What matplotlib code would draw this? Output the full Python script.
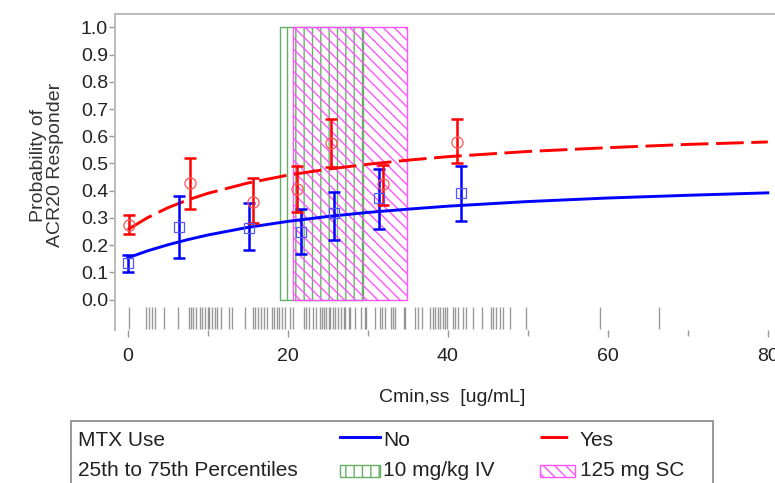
import numpy as np
import matplotlib
matplotlib.use("Agg")
import matplotlib.pyplot as plt
from matplotlib.patches import Rectangle
from matplotlib.lines import Line2D

plt.rcParams['font.family'] = ['Liberation Sans', 'DejaVu Sans']
plt.rcParams['hatch.linewidth'] = 1.0

# Courbes du modele (MTX No / Yes)
x_curve = [0, 2.5, 5, 7.5, 10, 15, 20, 25, 30, 35, 40, 50, 60, 70, 80]
p_no = [0.153, 0.179, 0.201, 0.220, 0.237, 0.265, 0.287, 0.305, 0.320, 0.332, 0.343, 0.360, 0.373, 0.383, 0.392]
p_yes = [0.257, 0.301, 0.337, 0.366, 0.390, 0.428, 0.457, 0.479, 0.497, 0.512, 0.525, 0.544, 0.558, 0.570, 0.579]

# Observes (moyenne + IC)
x_no = [0.0, 6.4, 15.2, 21.6, 25.8, 31.4, 41.6]
y_no = [0.133, 0.268, 0.263, 0.249, 0.317, 0.372, 0.390]
lo_no = [0.100, 0.151, 0.182, 0.166, 0.219, 0.258, 0.289]
hi_no = [0.164, 0.382, 0.356, 0.332, 0.396, 0.479, 0.492]

x_yes = [0.2, 7.8, 15.6, 21.2, 25.4, 31.9, 41.1]
y_yes = [0.274, 0.427, 0.360, 0.405, 0.574, 0.425, 0.580]
lo_yes = [0.240, 0.333, 0.280, 0.323, 0.488, 0.347, 0.500]
hi_yes = [0.311, 0.521, 0.446, 0.492, 0.664, 0.494, 0.664]

# Percentiles 25-75 de Cmin,ss
iv_q = [19.0, 29.4]
sc_q = [20.6, 34.9]

# Rug des concentrations individuelles
rug = [0.1, 2.3, 2.6, 3.0, 3.4, 4.5, 6.3, 7.7, 7.9, 8.2, 8.5, 9.0, 9.3, 9.6, 10.0,
       10.2, 10.5, 10.9, 11.2, 11.6, 12.6, 13.0, 14.7, 15.6, 15.9, 16.3, 16.6, 17.0,
       17.4, 18.0, 18.3, 18.6, 18.95, 19.25, 19.7, 20.3, 20.7, 22.0, 22.3, 22.6, 23.2,
       23.5, 24.0, 24.3, 24.5, 24.8, 25.1, 25.3, 25.6, 25.9, 26.3, 26.7, 27.0, 27.2,
       27.6, 27.8, 28.4, 29.2, 29.6, 29.75, 30.9, 31.5, 31.8, 32.2, 32.9, 33.2, 33.4,
       34.5, 34.7, 35.9, 36.3, 36.75, 37.8, 38.1, 38.4, 38.8, 39.0, 39.4, 39.7, 39.9,
       40.6, 40.9, 41.3, 41.9, 42.3, 43.2, 44.25, 45.4, 45.7, 46.0, 46.5, 46.95, 47.8,
       49.8, 59.0, 66.45]

azul = '#0000ff'
verm = '#ff0000'
verde = '#66b066'
rosa = '#ff55ff'
cinza = '#bbbbbb'

W, H = 775, 483
fig = plt.figure(figsize=(7.75, 4.83), dpi=100)
ax = fig.add_axes([115 / W, 1 - 330 / H, 1 - 115 / W, (330 - 13.5) / H])

# Caixas hachuradas
ax.bar(iv_q[0], 1.0, width=iv_q[1] - iv_q[0], align='edge', facecolor='none',
       edgecolor=verde, hatch='||', lw=1)
ax.bar(sc_q[0], 1.0, width=sc_q[1] - sc_q[0], align='edge', facecolor='none',
       edgecolor=rosa, hatch='\\\\\\', lw=1)

# Rug
ax.vlines(rug, -0.028, -0.108, color='#777777', lw=1, alpha=0.75)

# Curvas
ax.plot(x_curve, p_no, color=azul, lw=2.1, zorder=4)
ax.plot(x_curve, p_yes, color=verm, lw=2.1, ls=(0, (9.5, 2.6)), zorder=4)

# Barras de erro
ax.errorbar(x_no, y_no, yerr=[np.subtract(y_no, lo_no), np.subtract(hi_no, y_no)],
            fmt='none', ecolor=azul, elinewidth=1.8, capsize=4, capthick=1.8, zorder=5)
ax.errorbar(x_yes, y_yes, yerr=[np.subtract(y_yes, lo_yes), np.subtract(hi_yes, y_yes)],
            fmt='none', ecolor=verm, elinewidth=1.8, capsize=4, capthick=1.8, zorder=5)
ax.plot(x_no, y_no, ls='none', marker='s', ms=7, mfc='none', mec='#5555ff', mew=0.9, zorder=6)
ax.plot(x_yes, y_yes, ls='none', marker='o', ms=8, mfc='none', mec='#ff5555', mew=0.9, zorder=6)

ax.set_xlim(-1.59, 80.9)
ax.set_ylim(-0.112, 1.051)
ax.set_yticks(np.arange(0, 1.01, 0.1))
ax.set_yticklabels([f"{v:.1f}" for v in np.arange(0, 1.01, 0.1)])
ax.set_xticks([0, 20, 40, 60, 80])
ax.set_xticks([10, 30, 50, 70], minor=True)
ax.tick_params(axis='y', direction='out', length=4, width=1, color='#999999',
               labelsize=14, pad=1, labelcolor='#222222')
ax.tick_params(axis='x', which='major', direction='out', length=5, width=1, color='#999999',
               labelsize=14, pad=8, labelcolor='#222222')
ax.tick_params(axis='x', which='minor', direction='out', length=4, width=1, color='#999999')
for s in ['right', 'bottom']:
    ax.spines[s].set_visible(False)
for s in ['top', 'left']:
    ax.spines[s].set_color(cinza)
    ax.spines[s].set_linewidth(1.4)

fig.text(452 / W, 1 - 397 / H, 'Cmin,ss  [ug/mL]', ha='center', va='center', fontsize=14,
         color='#222222')
fig.text(47 / W, 1 - 165 / H, 'Probability of\nACR20 Responder', ha='center', va='center',
         rotation=90, fontsize=14, linespacing=1.05, color='#333333')

# Legenda manual
fig.add_artist(Rectangle((71 / W, 1 - 495 / H), (713 - 71) / W, (495 - 420.7) / H,
                         transform=fig.transFigure, facecolor='white', edgecolor='#888888', lw=1.2))
fs = 15
y1, y2 = 1 - 440 / H, 1 - 470 / H
fig.text(78 / W, y1, 'MTX Use', fontsize=fs, va='center', color='#222222')
fig.text(78 / W, y2, '25th to 75th Percentiles', fontsize=fs, va='center', color='#222222')
fig.add_artist(Line2D([340 / W, 380 / W], [1 - 437 / H] * 2, color=azul, lw=2.1,
                      transform=fig.transFigure))
fig.text(383 / W, y1, 'No', fontsize=fs, va='center', color='#222222')
fig.add_artist(Line2D([540 / W, 575 / W], [1 - 437 / H] * 2, color=verm, lw=2.1,
                      ls=(0, (9.5, 2.6)), transform=fig.transFigure))
fig.text(580 / W, y1, 'Yes', fontsize=fs, va='center', color='#222222')
fig.add_artist(Rectangle((340 / W, 1 - 477 / H), 40 / W, 12 / H, transform=fig.transFigure,
                         facecolor='none', edgecolor=verde, hatch='||', lw=1))
fig.text(383 / W, y2, '10 mg/kg IV', fontsize=fs, va='center', color='#222222')
fig.add_artist(Rectangle((540 / W, 1 - 477 / H), 35 / W, 12 / H, transform=fig.transFigure,
                         facecolor='none', edgecolor=rosa, hatch='\\\\\\', lw=1))
fig.text(580 / W, y2, '125 mg SC', fontsize=fs, va='center', color='#222222')

fig.savefig('out.png', dpi=100)
